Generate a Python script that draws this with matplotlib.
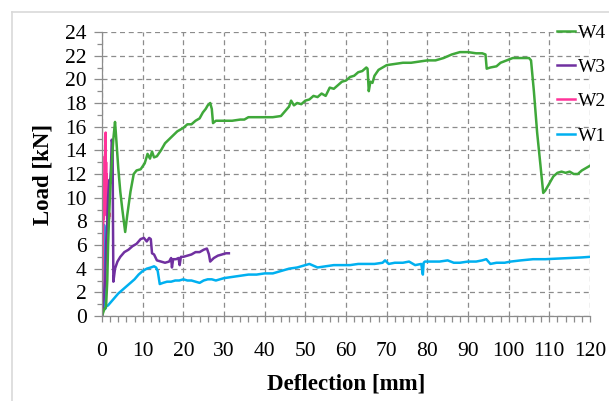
import numpy as np
import matplotlib
matplotlib.use('Agg')
import matplotlib.pyplot as plt
from matplotlib.lines import Line2D

plt.rcParams['font.family'] = ['Liberation Serif', 'DejaVu Serif']

# W4 - green
w4_x = [0, 0.5, 1.0, 1.3, 1.5, 1.7, 2.0, 2.4, 2.8, 3.2, 3.4, 4.0, 4.5, 5.0, 5.7, 6.2, 7.0, 7.8,
        8.5, 9.5, 10.5, 11.2, 11.8, 12.3, 12.8, 13.5, 14.5, 15.5, 17, 18.5, 20, 21, 22, 23, 24,
        24.8, 25.5, 26.0, 26.6, 27.0, 27.3, 28, 30, 32, 34, 35, 36, 38, 40, 42, 44, 45, 46, 46.5,
        47.2, 48, 49, 50, 51, 52, 53, 54, 55, 56, 57, 58, 59, 60, 61, 62, 63, 64, 65, 65.3, 65.6,
        66, 66.5, 67, 68, 69, 70, 72, 74, 76, 78, 80, 82, 84, 86, 88, 90, 92, 93.5, 94.3, 94.6,
        95.5, 97, 98, 99.5, 101, 103, 105, 105.5, 106.2, 107, 107.8, 108.5, 109, 110, 111, 112,
        113, 114, 115, 116, 117, 118, 119, 120]
w4_y = [0, 0.5, 0.8, 3, 6, 8, 10.5, 13, 15, 16.4, 15.5, 12.5, 10.5, 9.0, 7.1, 8.5, 10.5, 12,
        12.3, 12.4, 12.9, 13.7, 13.3, 13.9, 13.4, 13.5, 14.0, 14.6, 15.1, 15.6, 15.9, 16.2, 16.2,
        16.5, 16.7, 17.2, 17.5, 17.8, 18.0, 17.5, 16.3, 16.5, 16.5, 16.5, 16.6, 16.6, 16.8, 16.8,
        16.8, 16.8, 16.9, 17.3, 17.7, 18.2, 17.8, 18.0, 17.9, 18.2, 18.3, 18.6, 18.5, 18.8, 18.6,
        19.3, 19.2, 19.5, 19.8, 19.9, 20.2, 20.3, 20.6, 20.7, 21.0, 20.9, 19.0, 19.8, 19.7, 20.3,
        20.8, 21.0, 21.2, 21.3, 21.4, 21.4, 21.5, 21.6, 21.6, 21.8, 22.1, 22.3, 22.3, 22.2, 22.2,
        22.1, 20.9, 21.0, 21.1, 21.4, 21.6, 21.8, 21.8, 21.8, 21.6, 19.0, 15.5, 12.8, 10.4, 10.6,
        11.2, 11.8, 12.1, 12.2, 12.1, 12.2, 12.0, 12.0, 12.3, 12.5, 12.7]

# W3 - purple
w3_x = [0, 0.8, 1.0, 1.3, 1.5, 1.8, 2.0, 2.2, 2.4, 2.6, 2.7, 2.8, 3.2, 3.8, 4.5, 5.5, 6.5, 7.5,
        8.5, 9.5, 10.3, 11.0, 11.6, 12.0, 12.3, 12.8, 13.5, 14.5, 15.5, 16.5, 17.0, 17.2, 17.5,
        18.2, 18.8, 19.1, 19.4, 20, 21, 22, 23, 24, 25, 25.8, 26.3, 26.6, 27.5, 28.5, 29.5, 30.5,
        31.2]
w3_y = [0, 3, 6, 8, 10, 11.5, 11.2, 12.5, 14.9, 14.5, 8, 2.9, 4.0, 4.6, 5.0, 5.4, 5.6, 5.9,
        6.1, 6.5, 6.6, 6.3, 6.6, 6.5, 5.3, 5.2, 4.7, 4.6, 4.5, 4.6, 4.9, 4.1, 4.8, 4.8, 4.9, 4.3,
        5.0, 5.0, 5.1, 5.2, 5.4, 5.4, 5.6, 5.7, 5.2, 4.6, 4.9, 5.1, 5.2, 5.3, 5.3]

# W2 - pink
w2_x = [0, 0.3, 0.4, 0.45, 0.5, 0.55, 0.6, 0.65, 0.7, 0.75, 0.8, 0.85, 0.9, 0.95, 1.0, 1.05,
        1.1, 1.15, 1.2, 1.3, 1.4, 1.5, 1.6, 1.7, 1.8, 1.9]
w2_y = [0, 7.8, 9.5, 8.2, 11, 9, 12, 10, 13.5, 11, 15.0, 12, 15.5, 11.5, 13, 9.5, 12, 8.5, 10,
        8.2, 8.9, 8.3, 8.8, 8.2, 8.7, 8.5]

# W1 - blue
w1_x = [0, 0.3, 0.5, 0.6, 0.8, 1.0, 1.5, 2, 3, 4, 5, 6, 7, 8, 9, 10, 11, 12, 12.8, 13.3, 13.7,
        14.2, 15, 16, 17, 18, 19, 20, 21, 22, 23, 24, 25, 26, 27, 28, 30, 32, 34, 36, 38, 40, 42,
        44, 46, 48, 50, 51, 53, 55, 57, 59, 61, 63, 65, 67, 69, 69.6, 70.5, 72, 74, 75.5, 77,
        78.5, 78.9, 79.1, 79.4, 81, 83, 85, 86.5, 88, 90, 92, 93.5, 94.5, 95.5, 97, 99, 100.5,
        103, 106, 109, 112, 115, 118, 120]
w1_y = [0, 4, 7.7, 7.5, 0.6, 0.8, 0.9, 1.1, 1.5, 1.9, 2.2, 2.5, 2.8, 3.1, 3.5, 3.8, 4.0, 4.1,
        4.2, 4.1, 3.8, 2.7, 2.8, 2.9, 2.9, 3.0, 3.0, 3.1, 3.0, 3.0, 2.9, 2.8, 3.0, 3.1, 3.1, 3.0,
        3.2, 3.3, 3.4, 3.5, 3.5, 3.6, 3.6, 3.8, 4.0, 4.1, 4.3, 4.4, 4.1, 4.2, 4.3, 4.3, 4.3, 4.4,
        4.4, 4.4, 4.5, 4.7, 4.4, 4.5, 4.5, 4.6, 4.3, 4.4, 3.5, 4.5, 4.6, 4.6, 4.6, 4.7, 4.5, 4.5,
        4.6, 4.6, 4.7, 4.8, 4.4, 4.5, 4.5, 4.6, 4.7, 4.8, 4.8, 4.85, 4.9, 4.95, 5.0]

series = [('W1', w1_x, w1_y, '#00b0f0'),
          ('W2', w2_x, w2_y, '#ff3399'),
          ('W3', w3_x, w3_y, '#7030a0'),
          ('W4', w4_x, w4_y, '#3fa83a')]

fig = plt.figure(figsize=(6.09, 4.01), dpi=100)
ax = fig.add_axes([102 / 609, 85 / 401, 488 / 609, 284 / 401])

for name, xs, ys, c in series:
    ax.plot(xs, ys, color=c, lw=1.8, label=name, solid_joinstyle='round')

ax.set_xlim(0, 120)
ax.set_ylim(0, 24)
ax.set_xticks(np.arange(0, 121, 10))
ax.set_yticks(np.arange(0, 25, 2))
ax.set_xticks(np.arange(0, 121, 2), minor=True)
ax.set_yticks(np.arange(0, 25, 1), minor=True)
ax.grid(True, which='major', color='#8c8c8c', ls=(0, (4, 3)), lw=0.9)
ax.set_axisbelow(True)
for s in ['top', 'right']:
    ax.spines[s].set_visible(False)
for s in ['left', 'bottom']:
    ax.spines[s].set_color('#8c8c8c')
    ax.spines[s].set_linewidth(0.9)
ax.tick_params(which='both', direction='out', color='#8c8c8c', width=0.9, labelsize=15.5)
ax.tick_params(axis='x', which='both', length=4.5)
ax.tick_params(axis='x', which='major', pad=14)
ax.tick_params(axis='y', which='major', length=6, pad=5)
ax.tick_params(axis='y', which='minor', length=3.5)

ax.set_xlabel('Deflection [mm]', fontsize=16.5, fontweight='bold', labelpad=9)
ax.set_ylabel('Load [kN]', fontsize=16.5, fontweight='bold', labelpad=8)

h, l = ax.get_legend_handles_labels()
ax.legend(h[::-1], l[::-1], loc='upper left', bbox_to_anchor=(557 / 609, 1 - 24 / 401),
          bbox_transform=fig.transFigure, frameon=False, fontsize=14, borderpad=0,
          borderaxespad=0, handlelength=0.9, handletextpad=0.2, labelspacing=0.86)

# light frame around the chart
fig.add_artist(Line2D([12 / 609, 1], [1 - 12 / 401] * 2, color='#d9d9d9', lw=1.2,
                      transform=fig.transFigure))
fig.add_artist(Line2D([12 / 609] * 2, [0, 1 - 12 / 401], color='#d9d9d9', lw=1.2,
                      transform=fig.transFigure))

fig.savefig('out.png', dpi=100)
